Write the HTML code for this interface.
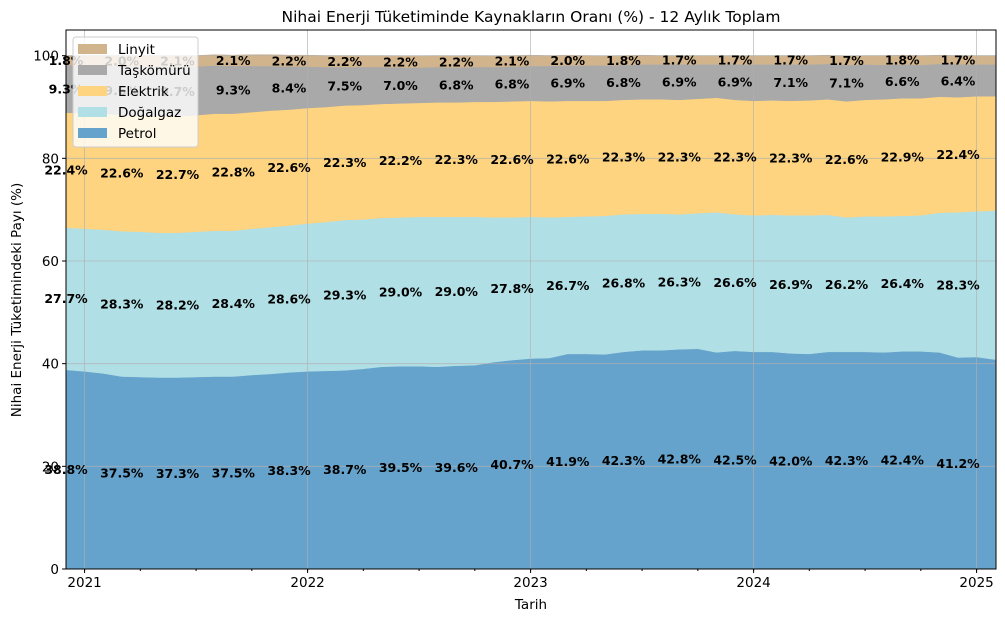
<!DOCTYPE html>
<html><head><meta charset="utf-8">
<style>
body{margin:0;background:#fff;font-family:"Liberation Sans","DejaVu Sans",sans-serif;}
svg text{font-family:"DejaVu Sans","Liberation Sans",sans-serif;}
</style></head>
<body>
<svg id="chart" width="1005" height="622" viewBox="0 0 1005 622" xmlns="http://www.w3.org/2000/svg"></svg>
<script>
const series = ["Petrol","Doğalgaz","Elektrik","Taşkömürü","Linyit"];
const colors = ["#66a3cc","#b0dfe5","#fed480","#a9a9a9","#d2b48c"];
const petrol = [38.8,38.5,38.1,37.5,37.4,37.3,37.3,37.4,37.5,37.5,37.8,38.0,38.3,38.5,38.6,38.7,39.0,39.4,39.5,39.5,39.4,39.6,39.7,40.3,40.7,41.0,41.1,41.9,41.9,41.8,42.3,42.6,42.6,42.8,42.9,42.2,42.5,42.3,42.3,42.0,41.9,42.3,42.3,42.3,42.2,42.4,42.4,42.2,41.2,41.3,40.8];
const dogalgaz = [27.7,27.8,28.0,28.3,28.3,28.2,28.2,28.3,28.4,28.4,28.5,28.6,28.6,28.8,29.0,29.3,29.1,29.0,29.0,29.1,29.2,29.0,28.9,28.2,27.8,27.6,27.4,26.7,26.8,27.0,26.8,26.6,26.6,26.3,26.4,27.3,26.6,26.6,26.7,26.9,27.0,26.7,26.2,26.4,26.5,26.4,26.5,27.2,28.3,28.4,29.0];
const elektrik = [22.4,22.5,22.6,22.6,22.6,22.7,22.7,22.7,22.8,22.8,22.7,22.7,22.6,22.5,22.4,22.3,22.3,22.2,22.2,22.2,22.3,22.3,22.4,22.5,22.6,22.6,22.6,22.6,22.5,22.4,22.3,22.3,22.3,22.3,22.3,22.3,22.3,22.3,22.3,22.3,22.4,22.5,22.6,22.7,22.8,22.9,22.8,22.6,22.4,22.4,22.3];
const taskomuru = [9.3,9.3,9.3,9.6,9.6,9.7,9.7,9.5,9.4,9.3,9.0,8.7,8.4,8.1,7.8,7.5,7.4,7.2,7.0,6.9,6.9,6.8,6.8,6.8,6.8,6.8,6.9,6.9,6.9,6.9,6.8,6.8,6.8,6.9,6.7,6.5,6.9,7.1,7.0,7.1,7.0,6.9,7.1,6.9,6.7,6.6,6.5,6.4,6.4,6.2,6.2];
const linyit = [1.8,1.9,2.0,2.0,2.1,2.1,2.1,2.1,2.1,2.1,2.2,2.2,2.2,2.2,2.2,2.2,2.2,2.2,2.2,2.2,2.2,2.2,2.2,2.1,2.1,2.1,2.0,2.0,1.9,1.8,1.8,1.8,1.7,1.7,1.7,1.7,1.7,1.7,1.7,1.7,1.7,1.7,1.7,1.7,1.8,1.8,1.8,1.7,1.7,1.7,1.7];
const yTicks = [0,20,40,60,80,100];
const xYearLabels = ["2021","2022","2023","2024","2025"];
const startYear = 2020, startMonth = 11;

const NS="http://www.w3.org/2000/svg";
const svg=document.getElementById('chart');
const L=66,R=996,T=30,B=569;
const n=petrol.length;
const monthW=(977-85)/48;
const xOf=i=>L+i*monthW;
const yOf=v=>B-(v/105)*(B-T);
function mk(tag,attrs,parent){const e=document.createElementNS(NS,tag);for(const k in attrs)e.setAttribute(k,attrs[k]);(parent||svg).appendChild(e);return e;}

const data=[petrol,dogalgaz,elektrik,taskomuru,linyit];
const cum=[];let base=new Array(n).fill(0);
data.forEach((s,k)=>{const top=s.map((v,i)=>base[i]+v);cum.push({lo:base.slice(),hi:top});base=top;});

const areas=mk('g',{});


cum.forEach((c,k)=>{
  let d='M'+xOf(0)+','+yOf(c.hi[0]);
  for(let i=1;i<n;i++)d+='L'+xOf(i)+','+yOf(c.hi[i]);
  for(let i=n-1;i>=0;i--)d+='L'+xOf(i)+','+yOf(c.lo[i]);
  const p=mk('path',{d:d+'Z',fill:colors[k],stroke:colors[k],'stroke-width':0.5},areas);
  
  
});

const grid=mk('g',{stroke:'#b0b0b0','stroke-width':0.8,opacity:0.8});


yTicks.forEach(v=>mk('line',{x1:L,x2:R,y1:yOf(v),y2:yOf(v)},grid));
xYearLabels.forEach(y=>{const i=(parseInt(y)-startYear)*12-startMonth;mk('line',{x1:xOf(i),x2:xOf(i),y1:T,y2:B},grid);});

const lbl=mk('g',{'font-size':'12.5','font-weight':'bold',fill:'#000','text-anchor':'middle'});


for(let i=0;i<n;i+=3){
  cum.forEach((c,k)=>{
    const v=data[k][i];
    const t=mk('text',{x:xOf(i),y:yOf((c.lo[i]+c.hi[i])/2)+4.5},lbl);
    t.textContent=v.toFixed(1)+'%';
    
    
  });
}

const fr=mk('rect',{x:L,y:T,width:R-L,height:B-T,fill:'none',stroke:'#000','stroke-width':1});



const ya=mk('g',{'font-size':'13.5',fill:'#000','text-anchor':'end'});


yTicks.forEach(v=>{mk('line',{x1:L-4,x2:L,y1:yOf(v),y2:yOf(v),stroke:'#000'},ya);const t=mk('text',{x:L-7,y:yOf(v)+5},ya);t.textContent=v;});
const xa=mk('g',{'font-size':'13.5',fill:'#000','text-anchor':'middle'});


for(let i=1;i<n;i+=3){mk('line',{x1:xOf(i),x2:xOf(i),y1:B,y2:B+2,stroke:'#000'},xa);}
xYearLabels.forEach(y=>{const i=(parseInt(y)-startYear)*12-startMonth;mk('line',{x1:xOf(i),x2:xOf(i),y1:B,y2:B+4,stroke:'#000'},xa);const t=mk('text',{x:xOf(i),y:B+18},xa);t.textContent=y;});

const xt=mk('text',{x:(L+R)/2,y:609,'font-size':'13.5','text-anchor':'middle'});xt.textContent='Tarih';

const yt=mk('text',{x:0,y:0,'font-size':'13.5','text-anchor':'middle',transform:'translate(21,300) rotate(-90)'});yt.textContent='Nihai Enerji Tüketimindeki Payı (%)';

const tt=mk('text',{x:(L+R)/2,y:22,'font-size':'15.5','text-anchor':'middle'});tt.textContent='Nihai Enerji Tüketiminde Kaynakların Oranı (%) - 12 Aylık Toplam';


const lg=mk('g',{});


mk('rect',{x:73,y:37,width:125,height:110,rx:3,fill:'#fff','fill-opacity':0.8,stroke:'#ccc'},lg);
[4,3,2,1,0].forEach((k,j)=>{
  const y=49+j*21;
  const g=mk('g',{},lg);
  
  
  mk('rect',{x:78,y:y-5,width:29,height:10,fill:colors[k]},g);
  const t=mk('text',{x:118,y:y+5,'font-size':'13.5'},g);t.textContent=series[k];
});
</script>
</body></html>
